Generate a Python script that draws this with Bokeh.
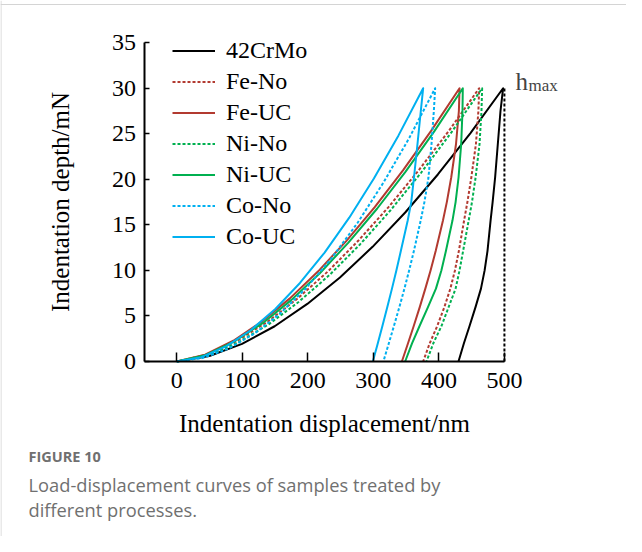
from bokeh.plotting import figure
from bokeh.models import LinearAxis, FixedTicker, Range1d, Legend, LegendItem, Label, Span
from bokeh.embed import file_html
from bokeh.resources import INLINE

# ---------------- data ----------------
x_ticks = [0, 100, 200, 300, 400, 500]
y_ticks = [0, 5, 10, 15, 20, 25, 30, 35]
H_MAX = 500
P_MAX = 30

# loading branches (displacement nm, load mN)
load_h_42CrMo = [0, 49.8, 99.6, 149.4, 199.2, 249.0, 298.8, 348.6, 398.4, 448.2, 498.0]
load_P_42CrMo = [0, 0.60, 1.94, 3.87, 6.32, 9.23, 12.59, 16.36, 20.53, 25.08, 30.0]
load_h_FeNo = [0, 46.2, 92.3, 138.5, 184.6, 230.8, 276.9, 323.1, 369.2, 415.4, 461.5]
load_P_FeNo = [0, 0.75, 2.28, 4.37, 6.93, 9.90, 13.25, 16.95, 20.99, 25.34, 30.0]
load_h_FeUC = [0, 43.2, 86.3, 129.5, 172.6, 215.8, 258.9, 302.1, 345.2, 388.4, 431.5]
load_P_FeUC = [0, 0.75, 2.28, 4.37, 6.93, 9.90, 13.25, 16.95, 20.99, 25.34, 30.0]
load_h_NiNo = [0, 46.6, 93.2, 139.8, 186.4, 233.0, 279.6, 326.2, 372.8, 419.4, 466.0]
load_P_NiNo = [0, 0.66, 2.07, 4.06, 6.56, 9.49, 12.85, 16.60, 20.72, 25.18, 30.0]
load_h_NiUC = [0, 43.7, 87.3, 131.0, 174.6, 218.3, 261.9, 305.6, 349.2, 392.9, 436.5]
load_P_NiUC = [0, 0.70, 2.18, 4.21, 6.74, 9.69, 13.05, 16.77, 20.85, 25.26, 30.0]
load_h_CoNo = [0, 39.4, 78.9, 118.3, 157.7, 197.2, 236.6, 276.0, 315.4, 354.9, 394.3]
load_P_CoNo = [0, 0.38, 1.41, 3.05, 5.26, 8.04, 11.37, 15.23, 19.64, 24.56, 30.0]
load_h_CoUC = [0, 37.6, 75.2, 112.8, 150.4, 188.0, 225.6, 263.2, 300.8, 338.4, 376.0]
load_P_CoUC = [0, 0.48, 1.66, 3.43, 5.77, 8.62, 11.96, 15.79, 20.08, 24.82, 30.0]

# unloading branches (same load levels for all samples)
unload_P = [30, 27.5, 23.85, 20.2, 17.5, 15.5, 12.15, 10, 8, 6, 3.9, 2, 0]
unload_h_42CrMo = [498.0, 494.0, 489.9, 485.8, 482.0, 478.9, 474.2, 469.8, 464.2, 456.0, 446.8, 438.2, 429.9]
unload_h_FeNo = [461.5, 460.3, 456.5, 449.5, 443.5, 438.5, 430.5, 424.5, 417.5, 408.5, 397.5, 386.0, 376.0]
unload_h_FeUC = [431.5, 430.5, 426.1, 418.8, 412.1, 406.3, 395.2, 387.3, 379.3, 370.9, 361.6, 352.9, 343.5]
unload_h_NiNo = [466.0, 465.0, 462.0, 456.0, 450.5, 445.5, 437.0, 431.5, 425.5, 415.0, 404.0, 391.5, 381.1]
unload_h_NiUC = [436.5, 436.0, 434.0, 430.0, 425.5, 420.8, 410.8, 403.8, 395.5, 383.5, 370.5, 359.0, 348.5]
unload_h_CoNo = [394.3, 392.3, 388.7, 384.1, 377.9, 372.3, 361.9, 354.6, 347.4, 339.8, 331.4, 323.6, 315.3]
unload_h_CoUC = [376.0, 372.4, 367.3, 362.0, 357.8, 352.5, 342.0, 335.1, 328.4, 321.4, 313.8, 306.8, 299.2]

names = ["42CrMo", "Fe-No", "Fe-UC", "Ni-No", "Ni-UC", "Co-No", "Co-UC"]
colors = ["#000000", "#b23a30", "#b23a30", "#00b050", "#00b050", "#00b0f0", "#00b0f0"]
dashes = ["solid", "3 2", "solid", "3 2", "solid", "3 2", "solid"]
load_h = [load_h_42CrMo, load_h_FeNo, load_h_FeUC, load_h_NiNo, load_h_NiUC, load_h_CoNo, load_h_CoUC]
load_P = [load_P_42CrMo, load_P_FeNo, load_P_FeUC, load_P_NiNo, load_P_NiUC, load_P_CoNo, load_P_CoUC]
unload_h = [unload_h_42CrMo, unload_h_FeNo, unload_h_FeUC, unload_h_NiNo, unload_h_NiUC, unload_h_CoNo, unload_h_CoUC]

# ---------------- layout ----------------
W, H = 626, 536
X0, X1 = -269.0, 686.3
Y0, Y1 = -19.21, 39.63


def px_x(px):
    return X0 + (px - 8) * (X1 - X0) / W


def px_y(py):
    return Y1 - (py - 8) * (Y1 - Y0) / H


SERIF = "Liberation Serif"

p = figure(width=W, height=H, x_range=Range1d(X0, X1), y_range=Range1d(Y0, Y1),
           output_backend="svg", toolbar_location=None,
           x_axis_location=None, y_axis_location=None,
           min_border=0, outline_line_color=None)
p.min_border_left = 0
p.min_border_right = 0
p.min_border_top = 0
p.min_border_bottom = 0
p.xgrid.visible = False
p.ygrid.visible = False
p.background_fill_color = "white"
p.border_fill_color = "white"

# page frame lines
p.add_layout(Span(location=px_y(12), dimension="width", line_color="#d4d4d4", line_width=1))
p.add_layout(Span(location=px_x(8.5), dimension="height", line_color="#d4d4d4", line_width=1))

xaxis = LinearAxis(fixed_location=0, bounds=(-50, 500), ticker=FixedTicker(ticks=x_ticks),
                   axis_label="Indentation displacement/nm")
yaxis = LinearAxis(fixed_location=-50, bounds=(0, 35), ticker=FixedTicker(ticks=y_ticks),
                   axis_label="Indentation depth/mN")
for ax, tick_in in ((xaxis, 9), (yaxis, 5)):
    ax.axis_line_width = 2
    ax.axis_line_color = "black"
    ax.major_tick_in = tick_in
    ax.major_tick_out = 0
    ax.major_tick_line_width = 1.5
    ax.major_tick_line_color = "black"
    ax.minor_tick_line_color = None
    ax.major_label_text_font = SERIF
    ax.major_label_text_font_size = "24px"
    ax.major_label_text_color = "black"
    ax.axis_label_text_font = SERIF
    ax.axis_label_text_font_size = "25px"
    ax.axis_label_text_font_style = "normal"
    ax.axis_label_text_color = "black"
xaxis.major_label_standoff = 11
xaxis.axis_label_standoff = 19
yaxis.major_label_standoff = 8
yaxis.axis_label_standoff = 36
p.add_layout(xaxis, "below")
p.add_layout(yaxis, "left")

# h_max dotted line
p.line([H_MAX, H_MAX], [0, P_MAX], line_color="black", line_width=2, line_dash="3 2")

items = []
for i, n in enumerate(names):
    xs = load_h[i] + unload_h[i][1:]
    ys = load_P[i] + unload_P[1:]
    r = p.line(xs, ys, line_color=colors[i], line_width=2, line_dash=dashes[i],
               line_join="round")
    items.append(LegendItem(label=n, renderers=[r]))

legend = Legend(items=items, location=(172, 286), label_text_font=SERIF,
                label_text_font_size="24px", label_text_color="black",
                glyph_width=43, glyph_height=25, label_height=25, spacing=4,
                padding=0, margin=0, border_line_color=None, background_fill_alpha=0,
                label_standoff=11)
p.add_layout(legend, "center")

p.add_layout(Label(x=H_MAX, y=P_MAX, x_offset=11, y_offset=7, text="h",
                   text_font=SERIF, text_font_size="25px", text_baseline="alphabetic"))
p.add_layout(Label(x=H_MAX, y=P_MAX, x_offset=24, y_offset=3, text="max",
                   text_font=SERIF, text_font_size="17px", text_baseline="alphabetic"))

# caption
p.add_layout(Label(x=px_x(36), y=px_y(464), text="FIGURE 10", text_font="Open Sans",
                   text_font_size="14.5px", text_font_style="bold", text_color="#707070",
                   text_baseline="alphabetic"))
p.add_layout(Label(x=px_x(36), y=px_y(492), text="Load-displacement curves of samples treated by",
                   text_font="Open Sans", text_font_size="18.3px", text_color="#707070",
                   text_baseline="alphabetic"))
p.add_layout(Label(x=px_x(36), y=px_y(517), text="different processes.",
                   text_font="Open Sans", text_font_size="18.3px", text_color="#707070",
                   text_baseline="alphabetic"))

open("out.html", "w").write(file_html(p, INLINE))
